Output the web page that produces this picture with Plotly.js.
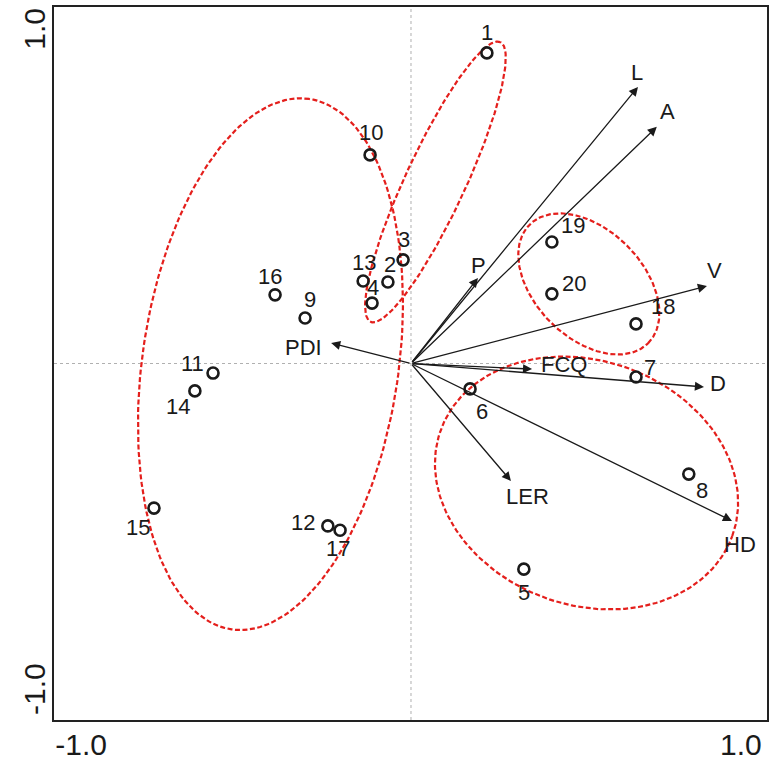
<!DOCTYPE html>
<html>
<head>
<meta charset="utf-8">
<script src="https://cdn.plot.ly/plotly-3.0.1.min.js"></script>
<style>html,body{margin:0;padding:0;background:#fff;}#chart{width:772px;height:763px;}</style>
</head>
<body>
<div id="chart"></div>
<script>
// ---- data ----
const sampleIds = ['1','2','3','4','5','6','7','8','9','10','11','12','13','14','15','16','17','18','19','20'];
const sampleX = [0.230, -0.070, -0.024, -0.118, 0.342, 0.179, 0.682, 0.842, -0.321, -0.124, -0.600, -0.252, -0.145, -0.655, -0.779, -0.412, -0.215, 0.682, 0.427, 0.427];
const sampleY = [0.941, 0.247, 0.314, 0.183, -0.623, -0.077, -0.041, -0.335, 0.138, 0.632, -0.029, -0.492, 0.250, -0.083, -0.438, 0.208, -0.505, 0.120, 0.368, 0.211];

const varNames = ['L','A','V','P','PDI','FCQ','D','LER','HD'];
const varX = [0.688, 0.745, 0.897, 0.203, -0.242, 0.367, 0.888, 0.303, 0.973];
const varY = [0.838, 0.717, 0.235, 0.259, 0.062, -0.017, -0.071, -0.356, -0.477];

// group ellipses: centre, semi-axes, rotation (degrees)
const ellipseCx = [-0.426, 0.074, 0.539, 0.532];
const ellipseCy = [-0.002, 0.550, 0.241, -0.362];
const ellipseA  = [0.812, 0.467, 0.254, 0.470];
const ellipseB  = [0.388, 0.091, 0.164, 0.370];
const ellipseAngle = [81.65, 65.1, -45, -20];

const axisTickVals = [-1, 1];
const axisTickText = ['-1.0', '1.0'];

// ---- label placement (pixels: right, down) ----
const sampleLabelDx = [0, 2, 1, 1, 0, 12, 14, 13, 5, 1, -21, -25, 1, -17, -16, -5, -2, 27, 21, 22];
const sampleLabelDy = [-20, -17, -20, -16, 23, 23, -10, 16, -18, -22, -10, -3, -18, 16, 19, -18, 18, -17, -17, -10];
const varLabelDx = [-1, 11, 8, 1, -28, 32, 14, 17, 8];
const varLabelDy = [-14, -15, -15, -13, 4, -5, -3, 15, 24];

const FONT = '"Liberation Sans", Arial, Helvetica, sans-serif';

const traces = [];
// ellipses
for (let k = 0; k < ellipseCx.length; k++) {
  const ex = [], ey = [];
  const th = ellipseAngle[k] * Math.PI / 180;
  for (let i = 0; i <= 200; i++) {
    const t = 2 * Math.PI * i / 200;
    const u = ellipseA[k] * Math.cos(t), v = ellipseB[k] * Math.sin(t);
    ex.push(ellipseCx[k] + u * Math.cos(th) - v * Math.sin(th));
    ey.push(ellipseCy[k] + u * Math.sin(th) + v * Math.cos(th));
  }
  traces.push({x: ex, y: ey, type: 'scatter', mode: 'lines', hoverinfo: 'skip',
    line: {color: '#e41f1c', width: 2.2, dash: '5px,2.5px'}, showlegend: false});
}
// sample points
traces.push({x: sampleX, y: sampleY, type: 'scatter', mode: 'markers', text: sampleIds,
  marker: {symbol: 'circle-open', size: 11, color: '#1a1a1a', line: {width: 2.6, color: '#1a1a1a'}},
  showlegend: false});

const annotations = [];
for (let i = 0; i < varNames.length; i++) {
  annotations.push({x: varX[i], y: varY[i], ax: 0, ay: 0, xref: 'x', yref: 'y', axref: 'x', ayref: 'y',
    text: '', showarrow: true, arrowhead: 2, arrowsize: 1.4, arrowwidth: 1.3, arrowcolor: '#1a1a1a', standoff: 0});
  annotations.push({x: varX[i], y: varY[i], xref: 'x', yref: 'y', text: varNames[i], showarrow: false,
    xanchor: 'center', yanchor: 'middle', xshift: varLabelDx[i], yshift: -varLabelDy[i],
    font: {family: FONT, size: 22, color: '#1a1a1a'}});
}
for (let i = 0; i < sampleIds.length; i++) {
  annotations.push({x: sampleX[i], y: sampleY[i], xref: 'x', yref: 'y', text: sampleIds[i], showarrow: false,
    xanchor: 'center', yanchor: 'middle', xshift: sampleLabelDx[i], yshift: -sampleLabelDy[i],
    font: {family: FONT, size: 22, color: '#1a1a1a'}});
}

const shapes = [
  {type: 'line', xref: 'x', yref: 'paper', x0: 0, x1: 0, y0: 0, y1: 1, line: {color: '#b0b0b0', width: 1, dash: 'dot'}, layer: 'below'},
  {type: 'line', xref: 'paper', yref: 'y', x0: 0, x1: 1, y0: 0, y1: 0, line: {color: '#b0b0b0', width: 1, dash: 'dot'}, layer: 'below'}
];

const axisCommon = {
  showgrid: false, zeroline: false, showline: true, mirror: true, linecolor: '#222', linewidth: 1.8,
  ticks: '', tickvals: axisTickVals, ticktext: axisTickText,
  tickfont: {family: FONT, size: 30, color: '#1a1a1a'}, fixedrange: true
};

const layout = {
  width: 772, height: 763,
  margin: {l: 54, r: 5, t: 7, b: 43, pad: 0},
  paper_bgcolor: '#ffffff', plot_bgcolor: '#ffffff',
  xaxis: Object.assign({}, axisCommon, {range: [-1.082, 1.079], ticklabelstandoff: -3}),
  yaxis: Object.assign({}, axisCommon, {range: [-1.08, 1.08], tickangle: -90, ticklabelstandoff: -5}),
  showlegend: false, hovermode: false,
  annotations: annotations, shapes: shapes,
  font: {family: FONT}
};

Plotly.newPlot('chart', traces, layout, {displayModeBar: false, staticPlot: true});
</script>
</body>
</html>
